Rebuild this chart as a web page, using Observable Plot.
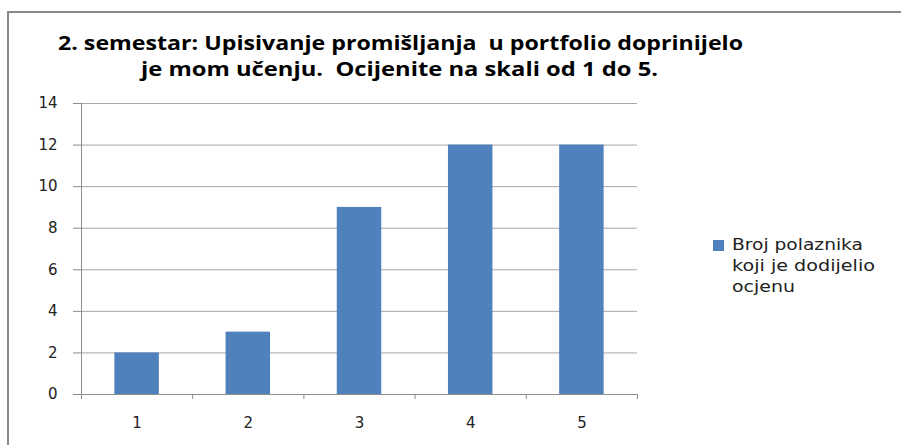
<!DOCTYPE html>
<html><head><meta charset="utf-8">
<script src="https://cdn.jsdelivr.net/npm/d3@7"></script>
<script src="https://cdn.jsdelivr.net/npm/@observablehq/plot@0.6"></script>
<style>
body{margin:0;background:#fff;overflow:hidden}
#wrap{position:relative;width:901px;height:445px;overflow:hidden;background:#fff}
#border{position:absolute;left:7px;top:11px;width:2000px;height:2000px;border-left:2px solid #8a8a8a;border-top:2px solid #8a8a8a}
#chart{position:absolute;left:0;top:0}
#overlay{position:absolute;left:0;top:0}
</style></head>
<body><div id="wrap"><div id="border"></div><div id="chart"></div><svg id="overlay" width="901" height="445"></svg></div>
<script>
const categories = [1, 2, 3, 4, 5];
const values = [2, 3, 9, 12, 12];
const yTicks = [0, 2, 4, 6, 8, 10, 12, 14];
const titleLines = ["2. semestar: Upisivanje promišljanja  u portfolio doprinijelo", "je mom učenju.  Ocijenite na skali od 1 do 5."];
const legendLines = ["Broj polaznika", "koji je dodijelio", "ocjenu"];

const rows = categories.map((c, i) => ({c, v: values[i]}));
const bounds = categories.map(c => c - 0.5).concat([categories[categories.length - 1] + 0.5]);
const axisColor = "#8c8c8c";
const barColor = "#4F81BD";

const chart = Plot.plot({
  width: 901,
  height: 445,
  marginLeft: 81,
  marginRight: 264,
  marginTop: 103,
  marginBottom: 51,
  style: {fontFamily: "DejaVu Sans", fontSize: "15px", color: "#222", background: "transparent"},
  x: {type: "linear", domain: [bounds[0], bounds[bounds.length - 1]]},
  y: {domain: [0, yTicks[yTicks.length - 1]]},
  marks: [
    Plot.ruleY(yTicks.filter(t => t > 0), {stroke: "#a6a6a6"}),
    Plot.rectY(rows, {x1: d => d.c - 0.2, x2: d => d.c + 0.2, y: "v", fill: barColor}),
    Plot.ruleY([0], {stroke: axisColor}),
    Plot.ruleX([bounds[0]], {stroke: axisColor}),
    Plot.axisX({ticks: bounds, tickSize: 5, tickFormat: () => "", stroke: axisColor, label: null}),
    Plot.axisX({ticks: categories, tickSize: 0, tickPadding: 23, tickFormat: d => String(d), fill: "#222", label: null}),
    Plot.axisY({ticks: yTicks, tickSize: 8, tickPadding: 16, stroke: axisColor, fill: "#222", label: null, tickFormat: d => String(d)})
  ]
});
document.getElementById("chart").appendChild(chart);

const ov = d3.select("#overlay");
const titleSpecs = [{x: 58, y: 50, len: 685}, {x: 141, y: 76, len: 517}];
titleLines.forEach((t, i) => {
  ov.append("text")
    .attr("x", titleSpecs[i].x).attr("y", titleSpecs[i].y)
    .attr("textLength", titleSpecs[i].len).attr("lengthAdjust", "spacingAndGlyphs")
    .style("white-space", "pre")
    .attr("font-family", "Open Sans, DejaVu Sans, sans-serif")
    .attr("font-weight", "bold").attr("font-size", 20).attr("fill", "#000")
    .text(t);
});
ov.append("rect").attr("x", 713).attr("y", 240).attr("width", 11).attr("height", 11).attr("fill", barColor);
const legendLens = [131, 143, 63];
legendLines.forEach((t, i) => {
  ov.append("text")
    .attr("x", 732).attr("y", 250 + i * 21)
    .attr("textLength", legendLens[i]).attr("lengthAdjust", "spacingAndGlyphs")
    .attr("font-family", "DejaVu Sans").attr("font-size", 15).attr("fill", "#222")
    .text(t);
});
</script>
</body></html>
